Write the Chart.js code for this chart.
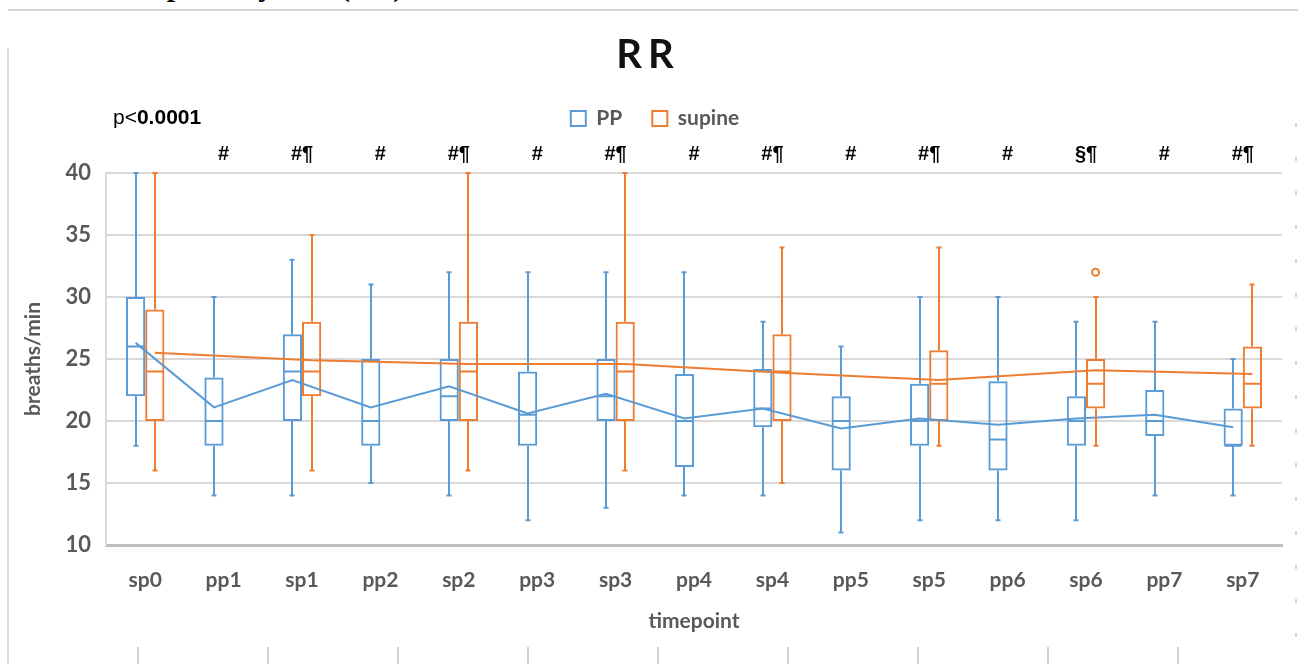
<!DOCTYPE html>
<html>
<head>
<meta charset="utf-8">
<title>RR</title>
<script src="https://cdn.jsdelivr.net/npm/chart.js@4.4.1/dist/chart.umd.min.js"></script>
<style>
  html, body { margin: 0; padding: 0; background: #ffffff; }
  #page { position: relative; width: 1298px; height: 664px; overflow: hidden; background: #fff; }
  #doc-head { position: absolute; left: 120px; top: -31px; line-height: 30px;
              font: bold 30px "Liberation Serif", "Times New Roman", serif; color: #000; white-space: nowrap; }
  #rule-top { position: absolute; left: 8px; right: 0; top: 9px; height: 2px; background: #d6d6d6; }
  #frame-left { position: absolute; left: 7px; top: 48px; bottom: 0; width: 2px; background: #dcdcdc; }
  #frame-right { position: absolute; right: 1px; top: 123px; bottom: 0; width: 2px;
                 background: repeating-linear-gradient(to bottom, #d4d4d4 0 4px, transparent 4px 34px); }
  .foot-tick { position: absolute; top: 647px; width: 2px; height: 17px; background: #d2d2d2; }
  #wrap { position: absolute; left: 0; top: 0; width: 1298px; height: 664px; }
</style>
</head>
<body>
<div id="page">
  <div id="doc-head">Respiratory rate (RR)</div>
  <div id="rule-top"></div>
  <div id="frame-left"></div>
  <div id="frame-right"></div>
  <div id="wrap"><canvas id="chart" width="1298" height="664"></canvas></div>
</div>
<script>
// Timepoints and significance marks above each one
const categories = ['sp0', 'pp1', 'sp1', 'pp2', 'sp2', 'pp3', 'sp3', 'pp4', 'sp4', 'pp5', 'sp5', 'pp6', 'sp6', 'pp7', 'sp7'];
const markers    = ['', '#', '#¶', '#', '#¶', '#', '#¶', '#', '#¶', '#', '#¶', '#', '§¶', '#', '#¶'];
const yTicks     = { min: 10, max: 40, step: 5 };

// PP (prone position) box statistics, breaths/min
const ppMin      = [18, 14, 14, 15, 14, 12, 13, 14, 14, 11, 12, 12, 12, 14, 14];
const ppQ1       = [22, 18, 20, 18, 20, 18, 20, 16.3, 19.5, 16, 18, 16, 18, 18.8, 18];
const ppMedian   = [26, 20, 24, 20, 22, 20.5, 22, 20, 21, 20, 20, 18.5, 20, 20, 18];
const ppQ3       = [30, 23.5, 27, 25, 25, 24, 25, 23.8, 24.2, 22, 23, 23.2, 22, 22.5, 21];
const ppMax      = [40, 30, 33, 31, 32, 32, 32, 32, 28, 26, 30, 30, 28, 28, 25];
const ppMean     = [26.3, 21.1, 23.3, 21.1, 22.8, 20.6, 22.2, 20.2, 21.0, 19.4, 20.2, 19.7, 20.2, 20.5, 19.5];
const ppOutliers = [[], [], [], [], [], [], [], [], [], [], [], [], [], [], []];

// supine box statistics, breaths/min
const supMin      = [16, null, 16, null, 16, null, 16, null, 15, null, 18, null, 18, null, 18];
const supQ1       = [20, null, 22, null, 20, null, 20, null, 20, null, 20, null, 21, null, 21];
const supMedian   = [24, null, 24, null, 24, null, 24, null, 24, null, 23, null, 23, null, 23];
const supQ3       = [29, null, 28, null, 28, null, 28, null, 27, null, 25.7, null, 25, null, 26];
const supMax      = [40, null, 35, null, 40, null, 40, null, 34, null, 34, null, 30, null, 31];
const supMean     = [25.5, null, 24.9, null, 24.6, null, 24.6, null, 23.9, null, 23.3, null, 24.1, null, 23.8];
const supOutliers = [[], [], [], [], [], [], [], [], [], [], [], [], [32], [], []];

const BLUE = '#5b9bd5';
const ORANGE = '#ed7d31';
const GRAY_TEXT = '#595959';
const AXIS_FONT = 'Lato, "Open Sans", sans-serif';

// small ticks of the page frame below the figure
for (let k = 0; k < 9; k++) {
  const t = document.createElement('div');
  t.className = 'foot-tick';
  t.style.left = (137 + 130 * k) + 'px';
  document.getElementById('page').appendChild(t);
}

function floating(q1, q3) {
  return q1.map((v, i) => (v == null || q3[i] == null) ? null : [v, q3[i]]);
}

// whiskers, caps, medians, mean lines and outliers, placed with the chart's own scales
const boxExtras = {
  id: 'boxExtras',
  afterDatasetsDraw(chart) {
    const { ctx } = chart;
    const y = chart.scales.y;
    chart.data.datasets.forEach((ds, d) => {
      const meta = chart.getDatasetMeta(d);
      const s = ds.stats;
      if (!s) return;
      ctx.save();
      ctx.strokeStyle = ds.borderColor;
      ctx.lineWidth = 2;
      ctx.lineCap = 'butt';
      ctx.beginPath();
      meta.data.forEach((el, i) => {
        if (s.q1[i] == null) return;
        const x = Math.round(el.x);
        const hw = el.width / 2;
        const pMax = y.getPixelForValue(s.max[i]);
        const pMin = y.getPixelForValue(s.min[i]);
        ctx.moveTo(x, y.getPixelForValue(s.q3[i]));
        ctx.lineTo(x, pMax);
        ctx.moveTo(x, y.getPixelForValue(s.q1[i]));
        ctx.lineTo(x, pMin);
        ctx.moveTo(x - 2.5, pMax); ctx.lineTo(x + 2.5, pMax);
        ctx.moveTo(x - 2.5, pMin); ctx.lineTo(x + 2.5, pMin);
        const pMed = y.getPixelForValue(s.median[i]);
        ctx.moveTo(x - hw + 1, pMed);
        ctx.lineTo(x + hw - 1, pMed);
      });
      ctx.stroke();

      // mean line through the centres of the boxes
      ctx.beginPath();
      let started = false;
      meta.data.forEach((el, i) => {
        if (s.mean[i] == null) return;
        const px = el.x, py = y.getPixelForValue(s.mean[i]);
        if (!started) { ctx.moveTo(px, py); started = true; } else { ctx.lineTo(px, py); }
      });
      ctx.stroke();

      // outliers
      ctx.fillStyle = '#ffffff';
      meta.data.forEach((el, i) => {
        (s.outliers[i] || []).forEach(v => {
          ctx.beginPath();
          ctx.arc(el.x, y.getPixelForValue(v), 3.5, 0, Math.PI * 2);
          ctx.fill();
          ctx.stroke();
        });
      });
      ctx.restore();
    });
  }
};

// legend row sits a little right of the canvas centre
const legendShift = {
  id: 'legendShift',
  afterLayout(chart) {
    const lg = chart.legend;
    if (!lg) return;
    lg.left += 14;
    lg.right += 14;
  }
};

// chart title and the overall p-value note
const headerText = {
  id: 'headerText',
  afterDraw(chart) {
    const { ctx } = chart;
    ctx.save();
    // title
    ctx.font = 'bold 40px ' + AXIS_FONT;
    ctx.fillStyle = '#111111';
    ctx.textBaseline = 'middle';
    ctx.textAlign = 'left';
    const spacing = 6;
    ctx.letterSpacing = spacing + 'px';
    const w = ctx.measureText('RR').width - spacing;
    ctx.fillText('RR', chart.width / 2 - 4 - w / 2, 55);
    ctx.letterSpacing = '0px';

    // p-value, aligned with the legend row
    const legend = chart.legend;
    const hb = legend.legendHitBoxes && legend.legendHitBoxes[0];
    const cy = hb ? hb.top + hb.height / 2 : 118;
    let x = chart.chartArea.left + 7;
    ctx.fillStyle = '#000000';
    ctx.font = '21px "Liberation Sans", Arial, sans-serif';
    ctx.fillText('p<', x, cy);
    x += ctx.measureText('p<').width;
    ctx.font = 'bold 21px "Liberation Sans", Arial, sans-serif';
    ctx.fillText('0.0001', x, cy);
    ctx.restore();
  }
};

const LAYOUT_TOP = 78;
const PLOT_TOP = 173;

new Chart(document.getElementById('chart'), {
  type: 'bar',
  data: {
    labels: categories,
    datasets: [
      {
        label: 'PP',
        data: floating(ppQ1, ppQ3),
        stats: { min: ppMin, q1: ppQ1, median: ppMedian, q3: ppQ3, max: ppMax, mean: ppMean, outliers: ppOutliers },
        backgroundColor: 'rgba(255,255,255,0)',
        borderColor: BLUE,
        borderWidth: 2,
        borderSkipped: false
      },
      {
        label: 'supine',
        data: floating(supQ1, supQ3),
        stats: { min: supMin, q1: supQ1, median: supMedian, q3: supQ3, max: supMax, mean: supMean, outliers: supOutliers },
        backgroundColor: 'rgba(255,255,255,0)',
        borderColor: ORANGE,
        borderWidth: 2,
        borderSkipped: false
      }
    ]
  },
  options: {
    responsive: false,
    animation: false,
    events: [],
    categoryPercentage: 0.49,
    barPercentage: 1.0,
    layout: { padding: { top: LAYOUT_TOP, right: 16, bottom: 0, left: 0 } },
    plugins: {
      title: { display: false },
      tooltip: { enabled: false },
      legend: {
        display: true,
        position: 'top',
        labels: {
          boxWidth: 15,
          boxHeight: 15,
          padding: 30,
          color: GRAY_TEXT,
          font: { family: AXIS_FONT, size: 21, weight: 'bold' }
        }
      }
    },
    scales: {
      x: {
        type: 'category',
        position: 'bottom',
        offset: true,
        grid: { display: false, drawTicks: false },
        border: { display: true, color: '#bfbfbf', width: 3 },
        ticks: {
          autoSkip: false, maxRotation: 0, padding: 23,
          color: GRAY_TEXT, font: { family: AXIS_FONT, size: 21, weight: 'bold' }
        },
        title: {
          display: true, text: 'timepoint', color: GRAY_TEXT,
          font: { family: AXIS_FONT, size: 21, weight: 'bold' },
          padding: { top: 0, bottom: 30 }
        },
        afterFit(scale) { scale.height = 664 - 545; }
      },
      xTop: {
        type: 'category',
        axis: 'x',
        position: 'top',
        labels: markers,
        offset: true,
        grid: { display: false, drawTicks: false },
        border: { display: false },
        ticks: {
          autoSkip: false, maxRotation: 0, padding: 7,
          color: '#000000', font: { family: '"Liberation Sans", Arial, sans-serif', size: 20, weight: 'bold' }
        },
        afterFit(scale) {
          const lg = scale.chart.legend;
          scale.height = PLOT_TOP - LAYOUT_TOP - (lg ? lg.height : 0);
        }
      },
      y: {
        min: yTicks.min,
        max: yTicks.max,
        grid: { color: '#d9d9d9', lineWidth: 2, drawTicks: false },
        border: { display: true, color: '#d9d9d9', width: 2 },
        ticks: {
          stepSize: yTicks.step, padding: 15,
          color: GRAY_TEXT, font: { family: AXIS_FONT, size: 22, weight: 'bold' }
        },
        title: {
          display: true, text: 'breaths/min', color: GRAY_TEXT,
          font: { family: AXIS_FONT, size: 21, weight: 'bold' },
          padding: { top: 21, bottom: 0 }
        },
        afterFit(scale) { scale.width = 106; }
      }
    }
  },
  plugins: [boxExtras, legendShift, headerText]
});
</script>
</body>
</html>
